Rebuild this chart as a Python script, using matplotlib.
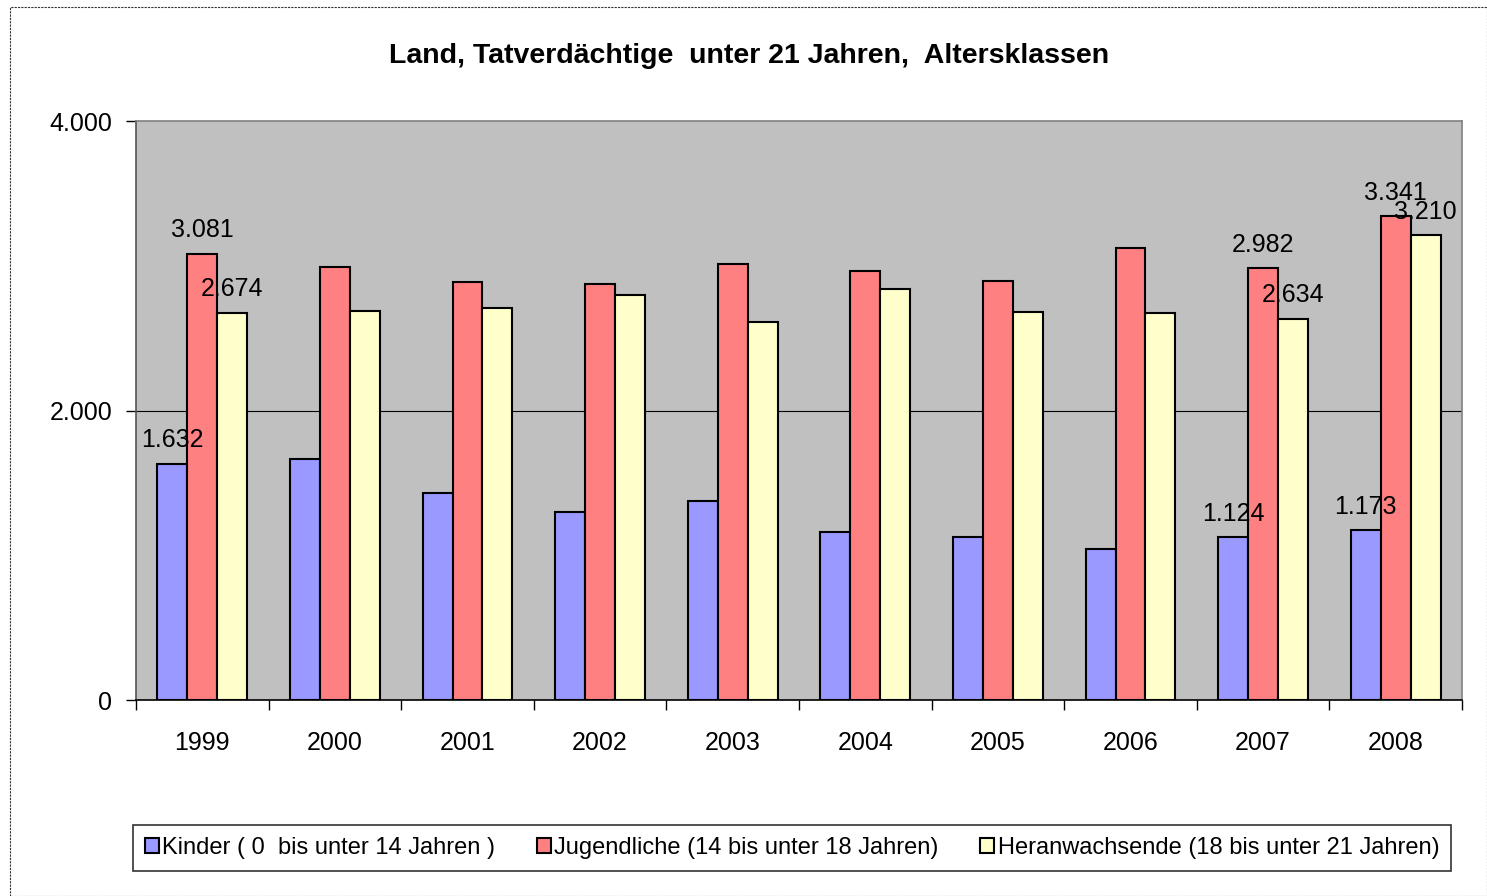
import matplotlib
matplotlib.use("Agg")
import matplotlib.pyplot as plt
from matplotlib.patches import Rectangle
from matplotlib.ticker import FuncFormatter
import numpy as np

years = ["1999", "2000", "2001", "2002", "2003", "2004", "2005", "2006", "2007", "2008"]
kinder = [1632, 1665, 1430, 1299, 1375, 1161, 1126, 1043, 1124, 1173]
jugendliche = [3081, 2992, 2888, 2875, 3013, 2964, 2895, 3123, 2982, 3341]
heranwachsende = [2674, 2688, 2709, 2799, 2612, 2840, 2681, 2674, 2634, 3210]
series_names = ["Kinder ( 0  bis unter 14 Jahren )",
                "Jugendliche (14 bis unter 18 Jahren)",
                "Heranwachsende (18 bis unter 21 Jahren)"]
labeled_years = ["1999", "2007", "2008"]

plt.rcParams['font.family'] = ['Liberation Sans', 'DejaVu Sans']

fig = plt.figure(figsize=(14.87, 8.96), dpi=100)
ax = fig.add_axes([136/1487, 1-700/896, (1462-136)/1487, (700-121)/896])
ax.set_facecolor('#C0C0C0')

x = np.arange(len(years))
w = 0.226
colors = ['#9999FF', '#FF8080', '#FFFFCC']
data = [kinder, jugendliche, heranwachsende]
for i, (vals, c, name) in enumerate(zip(data, colors, series_names)):
    pos = x + (i - 1) * w
    ax.bar(pos, vals, width=w, color=c, edgecolor='black', linewidth=1.5,
           label=name, zorder=3)
    for p, v, yr in zip(pos, vals, years):
        if yr in labeled_years:
            ax.annotate(f"{v:,}".replace(",", "."), (p, v), xytext=(0, 17),
                        textcoords='offset points', ha='center', va='center',
                        fontsize=18, color='black', zorder=5)

ax.set_xlim(-0.5, len(years) - 0.5)
ax.set_ylim(0, 4000)
ax.set_yticks([0, 2000, 4000])
ax.yaxis.set_major_formatter(FuncFormatter(lambda v, _: f"{int(v):,}".replace(",", ".")))
ax.axhline(2000, color='black', linewidth=0.8, zorder=1)

ax.set_xticks(x)
ax.set_xticklabels(years)
ax.set_xticks(np.arange(-0.5, len(years) + 0.5, 1), minor=True)
ax.tick_params(axis='x', which='major', length=0, pad=22, labelsize=18)
ax.tick_params(axis='x', which='minor', length=7, width=1, direction='out')
ax.tick_params(axis='y', length=7, width=1, direction='out', pad=10, labelsize=18)

ax.spines['left'].set_color('#555555')
ax.spines['bottom'].set_color('black')
ax.spines['top'].set_color('#808080')
ax.spines['right'].set_color('#808080')
for s in ax.spines.values():
    s.set_linewidth(1.2)

fig.text(749/1487, 1-56/896, "Land, Tatverdächtige  unter 21 Jahren,  Altersklassen",
         ha='center', va='center', fontsize=20.5, fontweight='bold')

leg = fig.legend(loc='center', bbox_to_anchor=(792/1487, 1-848/896), ncol=3,
                 fontsize=17, frameon=True, fancybox=False, edgecolor='black',
                 handlelength=0.6, handleheight=0.6, handletextpad=0.15,
                 columnspacing=1.75, borderpad=0.5)
leg.get_frame().set_linewidth(1.2)

fig.patches.append(Rectangle((10/1487, 0), 1477/1487, 1-7/896, transform=fig.transFigure,
                             fill=False, edgecolor='#333333', linewidth=0.8,
                             linestyle=(0, (2, 1))))

fig.savefig("out.png", dpi=100)
